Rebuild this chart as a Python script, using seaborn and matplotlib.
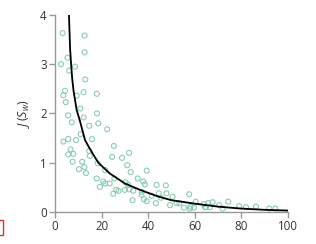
import numpy as np
import pandas as pd
import matplotlib
matplotlib.use("Agg")
import matplotlib.pyplot as plt
import matplotlib.patches as mpatches
import seaborn as sns

# observed points (S_w, J)
s_obs = [3.3, 12.7, 12.7, 5.4, 2.6, 8.6, 6.1, 13.0, 4.3, 12.3, 18.0, 3.6, 9.3, 4.6,
         10.9, 18.0, 5.7, 12.3, 7.2, 14.7, 18.6, 22.4, 11.0, 3.6, 5.7, 9.0, 15.9, 6.7,
         5.7, 7.9, 14.7, 15.0, 25.3, 24.5, 28.8, 31.8, 7.6, 11.7, 18.3, 31.0, 10.3,
         12.6, 13.3, 21.6, 32.5, 39.4, 17.9, 25.5, 35.5, 20.7, 23.5, 37.9, 19.3, 30.3,
         31.5, 26.3, 27.3, 25.0, 33.6, 38.6, 37.2, 33.3, 38.2, 39.4, 43.3, 43.6, 47.6,
         44.6, 47.9, 30.0, 31.9, 37.2, 41.5, 45.5, 50.5, 52.2, 53.4, 49.4, 55.4, 57.9,
         57.6, 60.4, 64.4, 64.8, 66.5, 63.9, 65.8, 67.7, 70.5, 72.0, 74.4, 79.1, 82.0,
         86.3, 92.0, 94.6, 58.2, 59.7, 21.5]
j_obs = [3.63, 3.58, 3.24, 3.13, 3.00, 2.95, 2.87, 2.69, 2.46, 2.43, 2.40, 2.37, 2.36, 2.23,
         2.10, 2.00, 1.96, 1.92, 1.82, 1.75, 1.80, 1.68, 1.58, 1.43, 1.48, 1.46, 1.48, 1.27,
         1.17, 1.18, 1.24, 1.14, 1.34, 1.12, 1.10, 1.20, 1.02, 1.02, 0.99, 0.95, 0.87,
         0.91, 0.79, 0.85, 0.81, 0.84, 0.68, 0.68, 0.68, 0.62, 0.58, 0.62, 0.51, 0.60,
         0.55, 0.45, 0.43, 0.37, 0.43, 0.56, 0.35, 0.24, 0.26, 0.22, 0.18, 0.55, 0.54,
         0.38, 0.38, 0.45, 0.46, 0.41, 0.33, 0.29, 0.31, 0.18, 0.18, 0.14, 0.09, 0.07,
         0.36, 0.21, 0.10, 0.10, 0.10, 0.16, 0.18, 0.20, 0.14, 0.07, 0.21, 0.12, 0.10,
         0.11, 0.07, 0.07, 0.11, 0.09, 0.58]

# fitted curve
s_fit = [6.0, 6.5, 7.0, 7.4, 8.0, 9.3, 10.7, 12.9, 15.0, 18.6, 23.6, 30.0, 36.5,
         44.0, 50.0, 60.0, 70.0, 80.0, 90.0, 100.0]
j_fit = [4.0, 3.3, 2.95, 2.7, 2.45, 2.07, 1.85, 1.46, 1.28, 1.0, 0.78, 0.58, 0.45,
         0.32, 0.24, 0.17, 0.11, 0.07, 0.045, 0.03]

sns.set_style("ticks")
plt.rcParams['font.family'] = ['Open Sans', 'DejaVu Sans']
plt.rcParams['mathtext.fontset'] = 'custom'
plt.rcParams['mathtext.it'] = 'Open Sans:italic'
plt.rcParams['mathtext.rm'] = 'Open Sans'

fig = plt.figure(figsize=(3.16, 2.44), dpi=100)
ax = fig.add_axes([0.174, 0.131, 0.737, 0.808])

obs = pd.DataFrame({"S": s_obs, "J": j_obs})
fit = pd.DataFrame({"S": s_fit, "J": j_fit})

sns.scatterplot(data=obs, x="S", y="J", ax=ax, marker="o", s=13,
                facecolors="none", edgecolor="#7cc8a8", linewidth=0.8,
                alpha=0.9, zorder=2)
sns.lineplot(data=fit, x="S", y="J", ax=ax, color="black", linewidth=1.3,
             sort=False, zorder=3)

ax.set_xlim(0, 100)
ax.set_ylim(0, 4)
ax.set_xticks([0, 20, 40, 60, 80, 100])
ax.set_yticks([0, 1, 2, 3, 4])
sns.despine(ax=ax)
for side in ("left", "bottom"):
    ax.spines[side].set_color("#999999")
    ax.spines[side].set_linewidth(1.0)
ax.tick_params(colors="#999999", labelcolor="#333333", labelsize=8.3,
               length=4, width=1.0, pad=2)

ax.set_xlabel("$S_w$", fontsize=9, color="#333333", labelpad=7)
ax.set_ylabel("$J\\,(S_w)$", fontsize=9, color="#333333", labelpad=6)

# small red frame at the lower left edge
fig.patches.append(mpatches.Rectangle((-0.02, 0.037), 0.029, 0.061,
                                      transform=fig.transFigure, fill=False,
                                      edgecolor="#e03030", linewidth=1.0))

fig.savefig("out.png", dpi=100)
